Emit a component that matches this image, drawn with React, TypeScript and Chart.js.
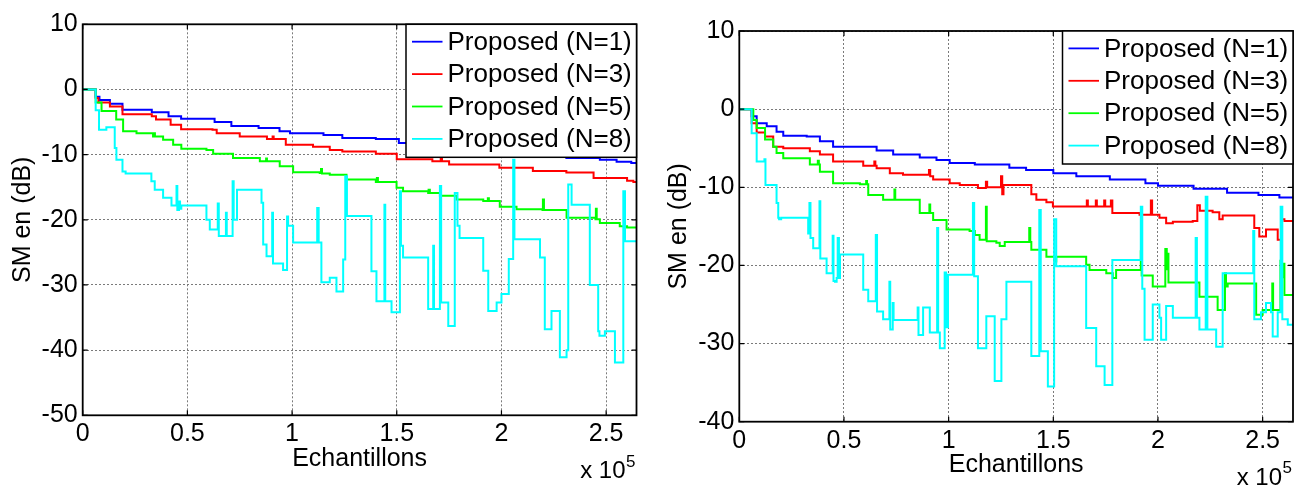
import { useEffect, useRef } from "react";
import { Chart, registerables } from "chart.js";

Chart.register(...registerables);

// ---------- data ----------
const seriesLabels = ["Proposed (N=1)", "Proposed (N=3)", "Proposed (N=5)", "Proposed (N=8)"];
const seriesColors = ["#0000ff", "#ff0000", "#00ff00", "#00ffff"];
const xTicks = [0, 0.5, 1, 1.5, 2, 2.5];
const xTickLabels = ["0", "0.5", "1", "1.5", "2", "2.5"];
const xMax = 2.645;
const leftYTicks = [-50, -40, -30, -20, -10, 0, 10];
const rightYTicks = [-40, -30, -20, -10, 0, 10];
const xLabel = "Echantillons";
const yLabel = "SM en (dB)";
const xScaleText = "x 10";
const xScaleExp = "5";

// x in units of 1e5 samples, y in dB (step "hold" values)
const leftN1 = [[0,0],[0.062,-1.1],[0.08,-1.6],[0.13,-2.2],[0.19,-3.1],[0.33,-3.5],[0.41,-4.1],[0.47,-4.5],[0.63,-5.0],[0.71,-5.6],[0.84,-5.9],[0.94,-6.4],[0.99,-6.7],[1.15,-7.0],[1.24,-7.45],[1.40,-7.6],[1.51,-8.2],[1.65,-8.6],[1.75,-9.0],[1.88,-9.3],[1.99,-9.6],[2.12,-9.9],[2.25,-10.2],[2.31,-10.5],[2.47,-10.8],[2.55,-11.1],[2.62,-11.3],[2.645,-11.3]];
const leftN3 = [[0,0],[0.062,-1.3],[0.075,-2.0],[0.13,-2.6],[0.19,-3.8],[0.33,-4.1],[0.35,-4.6],[0.42,-5.4],[0.47,-6.1],[0.62,-6.2],[0.64,-6.7],[0.75,-7.2],[0.88,-7.6],[0.907,-7.2],[0.912,-7.6],[0.97,-8.5],[1.10,-8.8],[1.18,-9.3],[1.24,-9.5],[1.40,-9.85],[1.50,-10.7],[1.67,-11.0],[1.71,-10.6],[1.716,-11.0],[1.75,-11.5],[1.99,-12.0],[2.15,-12.5],[2.31,-12.75],[2.44,-13.6],[2.60,-14.0],[2.63,-14.2],[2.645,-14.2]];
const leftN5 = [[0,0],[0.062,-2.0],[0.09,-3.3],[0.16,-4.6],[0.193,-6.4],[0.257,-6.7],[0.336,-7.2],[0.34,-6.7],[0.345,-7.2],[0.384,-7.7],[0.432,-8.5],[0.471,-9.1],[0.591,-9.3],[0.623,-9.85],[0.718,-10.5],[0.846,-11.0],[0.876,-10.6],[0.88,-11.0],[0.941,-11.8],[1.005,-12.7],[1.132,-12.8],[1.138,-12.2],[1.143,-12.9],[1.18,-13.1],[1.26,-13.8],[1.40,-14.2],[1.405,-13.6],[1.41,-14.2],[1.499,-15.1],[1.53,-15.6],[1.65,-15.9],[1.652,-15.4],[1.658,-15.9],[1.706,-16.3],[1.786,-16.9],[1.913,-17.1],[1.935,-16.7],[1.94,-17.1],[1.992,-18.0],[2.072,-18.4],[2.196,-18.5],[2.198,-16.9],[2.203,-18.5],[2.311,-19.7],[2.449,-19.9],[2.451,-18.3],[2.455,-19.9],[2.47,-20.5],[2.565,-21.0],[2.60,-21.2],[2.645,-21.2]];
const leftN8 = [[0,0],[0.062,-3.2],[0.078,-6.2],[0.113,-5.8],[0.153,-9.0],[0.161,-10.8],[0.19,-12.6],[0.205,-12.9],[0.328,-14.1],[0.344,-15.4],[0.384,-16.6],[0.424,-17.8],[0.448,-14.8],[0.452,-18.5],[0.46,-17.2],[0.465,-18.3],[0.471,-17.8],[0.591,-20.0],[0.607,-21.5],[0.645,-17.5],[0.65,-22.5],[0.684,-18.9],[0.688,-22.5],[0.716,-14.1],[0.721,-20.0],[0.737,-15.4],[0.854,-17.4],[0.862,-23.8],[0.878,-25.6],[0.905,-18.9],[0.909,-26.7],[0.957,-27.7],[0.976,-19.5],[0.981,-20.9],[1.005,-23.5],[1.12,-18.2],[1.127,-23.5],[1.14,-29.6],[1.18,-28.9],[1.212,-31.0],[1.244,-26.1],[1.254,-13.3],[1.262,-19.4],[1.379,-27.9],[1.403,-32.5],[1.441,-17.7],[1.445,-32.5],[1.475,-34.2],[1.515,-15.6],[1.52,-24.0],[1.53,-25.8],[1.65,-33.7],[1.674,-24.0],[1.678,-33.7],[1.706,-14.8],[1.712,-32.7],[1.746,-36.3],[1.777,-15.9],[1.79,-20.9],[1.80,-22.8],[1.913,-27.8],[1.937,-34.0],[1.977,-32.7],[2.0,-31.4],[2.035,-26.0],[2.056,-10.8],[2.062,-23.0],[2.184,-25.8],[2.207,-36.8],[2.239,-34.0],[2.279,-41.1],[2.311,-40.0],[2.319,-14.6],[2.335,-17.7],[2.422,-30.0],[2.462,-37.1],[2.468,-37.8],[2.494,-37.1],[2.542,-41.9],[2.582,-15.6],[2.59,-23.3],[2.645,-23.3]];

const rightN1 = [[0,0],[0.059,-0.9],[0.083,-1.8],[0.131,-2.2],[0.178,-2.9],[0.21,-3.4],[0.322,-3.5],[0.385,-4.1],[0.448,-4.8],[0.656,-5.3],[0.735,-5.8],[0.862,-6.2],[0.942,-6.5],[1.005,-6.9],[1.125,-7.1],[1.29,-7.5],[1.37,-7.8],[1.50,-8.2],[1.61,-8.6],[1.77,-9.0],[1.94,-9.5],[2.0,-9.8],[2.17,-10.2],[2.33,-10.7],[2.48,-11.0],[2.58,-11.3],[2.645,-11.3]];
const rightN3 = [[0,0],[0.059,-1.8],[0.083,-3.0],[0.123,-3.5],[0.162,-4.8],[0.21,-5.0],[0.337,-5.4],[0.385,-5.8],[0.448,-6.7],[0.592,-7.25],[0.645,-6.7],[0.65,-7.25],[0.656,-7.55],[0.719,-8.2],[0.782,-8.4],[0.906,-7.8],[0.912,-8.6],[0.926,-9.0],[1.005,-9.5],[1.053,-9.7],[1.14,-10.1],[1.178,-9.3],[1.184,-10.0],[1.25,-8.6],[1.256,-10.9],[1.262,-9.7],[1.387,-9.7],[1.395,-10.9],[1.419,-11.6],[1.467,-11.9],[1.498,-12.45],[1.657,-12.45],[1.66,-11.7],[1.665,-12.45],[1.703,-11.7],[1.708,-12.45],[1.743,-11.7],[1.748,-12.45],[1.775,-11.7],[1.782,-13.3],[1.912,-13.5],[1.966,-11.7],[1.972,-13.5],[2.007,-13.9],[2.039,-14.6],[2.071,-14.4],[2.166,-14.3],[2.188,-12.3],[2.2,-13.0],[2.261,-13.2],[2.293,-14.1],[2.309,-13.6],[2.452,-13.6],[2.46,-15.2],[2.484,-16.3],[2.516,-15.4],[2.572,-16.7],[2.588,-14.1],[2.604,-14.3],[2.645,-14.3]];
const rightN5 = [[0,0],[0.067,-1.4],[0.083,-2.4],[0.123,-3.9],[0.162,-4.8],[0.178,-5.6],[0.21,-6.3],[0.322,-6.3],[0.337,-7.1],[0.375,-6.6],[0.38,-7.1],[0.385,-8.0],[0.448,-9.5],[0.576,-9.6],[0.606,-9.2],[0.61,-9.6],[0.616,-11.0],[0.687,-11.6],[0.741,-10.3],[0.745,-11.6],[0.854,-11.6],[0.862,-13.3],[0.908,-12.2],[0.912,-13.3],[0.926,-14.2],[0.99,-15.4],[1.10,-15.6],[1.125,-16.1],[1.148,-16.7],[1.178,-12.5],[1.182,-16.9],[1.228,-17.1],[1.244,-17.5],[1.268,-17.0],[1.385,-15.2],[1.39,-17.0],[1.395,-18.0],[1.467,-18.9],[1.506,-19.5],[1.514,-18.9],[1.657,-19.9],[1.673,-20.6],[1.753,-21.0],[1.784,-21.6],[1.80,-20.6],[1.918,-18.2],[1.922,-21.3],[1.975,-22.7],[2.035,-17.9],[2.042,-20.5],[2.046,-18.5],[2.05,-22.2],[2.198,-24.0],[2.285,-25.7],[2.32,-21.0],[2.325,-22.7],[2.333,-22.3],[2.469,-26.3],[2.5,-25.7],[2.546,-22.3],[2.55,-25.7],[2.585,-19.4],[2.59,-21.5],[2.595,-19.8],[2.604,-23.8],[2.645,-23.8]];
const rightN8 = [[0,0],[0.059,-3.1],[0.083,-6.7],[0.12,-6.4],[0.125,-9.7],[0.178,-12.0],[0.186,-13.9],[0.19,-14.1],[0.20,-13.9],[0.329,-15.9],[0.335,-12.0],[0.34,-16.5],[0.353,-17.8],[0.383,-11.8],[0.387,-19.1],[0.417,-21.0],[0.446,-16.2],[0.45,-22.0],[0.457,-22.1],[0.465,-21.6],[0.47,-16.5],[0.476,-21.6],[0.481,-18.6],[0.592,-23.1],[0.616,-24.6],[0.652,-16.1],[0.658,-25.9],[0.687,-26.9],[0.717,-22.1],[0.721,-28.2],[0.733,-24.8],[0.737,-27.0],[0.852,-25.4],[0.856,-28.9],[0.878,-25.4],[0.91,-28.6],[0.945,-15.2],[0.95,-28.6],[0.958,-30.6],[0.981,-20.9],[0.988,-27.9],[0.997,-21.2],[1.116,-12.0],[1.122,-21.4],[1.14,-30.6],[1.18,-26.5],[1.22,-34.8],[1.252,-26.9],[1.276,-22.1],[1.395,-31.6],[1.433,-12.9],[1.44,-31.0],[1.474,-35.5],[1.504,-14.1],[1.514,-20.1],[1.657,-28.0],[1.705,-32.9],[1.745,-35.3],[1.782,-19.3],[1.918,-12.5],[1.925,-23.0],[1.936,-29.5],[1.975,-25.0],[2.007,-26.7],[2.015,-29.5],[2.039,-25.2],[2.071,-26.7],[2.18,-16.5],[2.186,-26.7],[2.198,-28.2],[2.228,-11.2],[2.236,-28.2],[2.278,-30.4],[2.309,-21.0],[2.455,-15.6],[2.46,-26.9],[2.492,-26.0],[2.516,-24.8],[2.54,-26.0],[2.548,-29.1],[2.572,-26.0],[2.586,-12.5],[2.594,-26.9],[2.62,-27.6],[2.645,-27.6]];

const leftSeries = [leftN1, leftN3, leftN5, leftN8];
const rightSeries = [rightN1, rightN3, rightN5, rightN8];

// ---------- styling ----------
const FONT = "'Liberation Sans', Arial, Helvetica, sans-serif";
const CANVAS_W = 647;
const CANVAS_H = 485;
const GRID_COLOR = "#7a7a7a";

type Geo = {
  left: number; top: number; right: number; bottom: number;
  yTitlePad: number; xTitlePad: number; xTickPad: number; yTickPad: number;
};

const leftGeo: Geo = { left: 82.7, top: 24.3, right: 636.5, bottom: 415.3, yTitlePad: 8, xTitlePad: 10.5, xTickPad: 4, yTickPad: 5 };
const rightGeo: Geo = { left: 92.3, top: 31, right: 646, bottom: 421.7, yTitlePad: 17.5, xTitlePad: 4.7, xTickPad: 4, yTickPad: 5 };

const framePlugin = {
  id: "matlabFrame",
  afterDatasetsDraw(chart: any) {
    const { ctx, chartArea: a, scales } = chart;
    ctx.save();
    ctx.strokeStyle = "#000";
    ctx.lineWidth = 1.8;
    ctx.strokeRect(a.left, a.top, a.right - a.left, a.bottom - a.top);
    ctx.lineWidth = 1.2;
    const tl = 5;
    ctx.beginPath();
    for (const t of scales.x.ticks) {
      const px = scales.x.getPixelForValue(t.value);
      ctx.moveTo(px, a.bottom); ctx.lineTo(px, a.bottom - tl);
      ctx.moveTo(px, a.top); ctx.lineTo(px, a.top + tl);
    }
    for (const t of scales.y.ticks) {
      const py = scales.y.getPixelForValue(t.value);
      ctx.moveTo(a.left, py); ctx.lineTo(a.left + tl, py);
      ctx.moveTo(a.right, py); ctx.lineTo(a.right - tl, py);
    }
    ctx.stroke();
    ctx.restore();
  },
};

const legendPlugin = {
  id: "matlabLegend",
  afterDraw(chart: any) {
    const { ctx, chartArea: a } = chart;
    const w = 230.5, h = 133;
    const x0 = a.right - w, y0 = a.top;
    ctx.save();
    ctx.fillStyle = "#fff";
    ctx.fillRect(x0, y0, w, h);
    ctx.strokeStyle = "#000";
    ctx.lineWidth = 1.5;
    ctx.strokeRect(x0, y0, w, h);
    ctx.font = `26px ${FONT}`;
    ctx.textBaseline = "middle";
    ctx.textAlign = "left";
    chart.data.datasets.forEach((ds: any, i: number) => {
      const yy = y0 + 17.4 + i * 32.4;
      ctx.strokeStyle = ds.borderColor;
      ctx.lineWidth = 1.8;
      ctx.beginPath();
      ctx.moveTo(x0 + 6, yy);
      ctx.lineTo(x0 + 36.5, yy);
      ctx.stroke();
      ctx.fillStyle = "#000";
      ctx.fillText(ds.label, x0 + 41.5, yy + 1);
    });
    ctx.restore();
  },
};

const exponentPlugin = {
  id: "matlabExponent",
  afterDraw(chart: any) {
    const { ctx, chartArea: a } = chart;
    ctx.save();
    ctx.fillStyle = "#000";
    ctx.textBaseline = "alphabetic";
    ctx.font = `24px ${FONT}`;
    ctx.textAlign = "right";
    ctx.fillText(xScaleText, a.right - 11, a.bottom + 63);
    ctx.font = `17px ${FONT}`;
    ctx.textAlign = "left";
    ctx.fillText(xScaleExp, a.right - 10.5, a.bottom + 51.5);
    ctx.restore();
  },
};

function buildConfig(series: number[][][], yTicks: number[], geo: Geo): any {
  const font = { family: FONT, size: 25 };
  return {
    type: "line",
    data: {
      datasets: series.map((pts, i) => ({
        label: seriesLabels[i],
        data: pts.map(([x, y]) => ({ x, y })),
        borderColor: seriesColors[i],
        backgroundColor: seriesColors[i],
        borderWidth: 2,
        pointRadius: 0,
        stepped: true,
        fill: false,
        order: series.length - 1 - i,
      })),
    },
    options: {
      animation: false,
      responsive: false,
      events: [],
      layout: { padding: { left: 0, top: geo.top, right: CANVAS_W - geo.right, bottom: 0 } },
      plugins: { legend: { display: false }, tooltip: { enabled: false }, title: { display: false } },
      scales: {
        x: {
          type: "linear",
          min: 0,
          max: xMax,
          afterFit: (s: any) => { s.height = CANVAS_H - geo.bottom; },
          afterBuildTicks: (s: any) => { s.ticks = xTicks.map((v) => ({ value: v })); },
          ticks: {
            autoSkip: false, maxRotation: 0, minRotation: 0,
            padding: geo.xTickPad, color: "#000", font,
            callback: (_v: any, i: number) => xTickLabels[i],
          },
          grid: { color: GRID_COLOR, lineWidth: 1, drawTicks: false },
          border: { display: false, dash: [2, 2] },
          title: { display: true, text: xLabel, color: "#000", font, padding: { top: 0, bottom: geo.xTitlePad } },
        },
        y: {
          type: "linear",
          min: yTicks[0],
          max: yTicks[yTicks.length - 1],
          afterFit: (s: any) => { s.width = geo.left; },
          afterBuildTicks: (s: any) => { s.ticks = yTicks.map((v) => ({ value: v })); },
          ticks: {
            autoSkip: false, padding: geo.yTickPad, color: "#000", font,
            callback: (v: any) => String(v),
          },
          grid: { color: GRID_COLOR, lineWidth: 1, drawTicks: false },
          border: { display: false, dash: [2, 2] },
          title: { display: true, text: yLabel, color: "#000", font, padding: { top: geo.yTitlePad, bottom: 0 } },
        },
      },
    },
    plugins: [framePlugin, legendPlugin, exponentPlugin],
  };
}

function Plot({ series, yTicks, geo, x }: { series: number[][][]; yTicks: number[]; geo: Geo; x: number }) {
  const ref = useRef<HTMLCanvasElement | null>(null);
  useEffect(() => {
    if (!ref.current) return;
    const chart = new Chart(ref.current, buildConfig(series, yTicks, geo));
    return () => chart.destroy();
  }, [series, yTicks, geo]);
  return (
    <canvas
      ref={ref}
      width={CANVAS_W}
      height={CANVAS_H}
      style={{ position: "absolute", left: x, top: 0, width: CANVAS_W, height: CANVAS_H }}
    />
  );
}

export default function App() {
  return (
    <div style={{ position: "absolute", left: 0, top: 0, width: 1294, height: 485, background: "#fff", overflow: "hidden" }}>
      <Plot series={leftSeries} yTicks={leftYTicks} geo={leftGeo} x={0} />
      <Plot series={rightSeries} yTicks={rightYTicks} geo={rightGeo} x={647} />
    </div>
  );
}
